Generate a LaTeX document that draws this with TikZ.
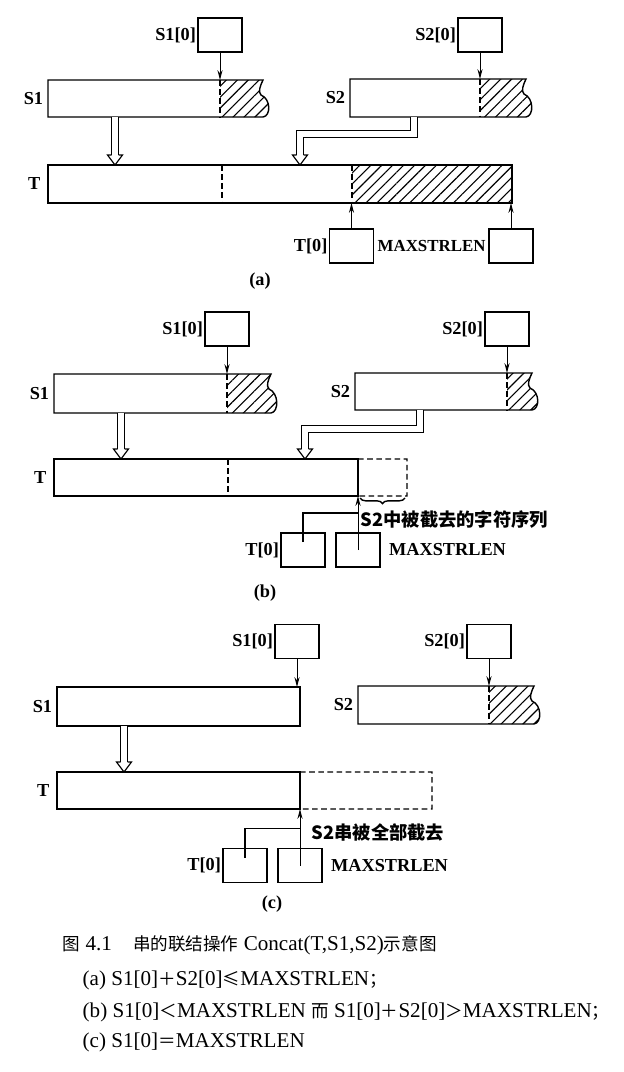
\documentclass[tikz,border=0pt]{standalone}
\usepackage{fontspec}
\setmainfont{Liberation Serif}
\newfontfamily\cjk{Noto Sans CJK SC}
\usepackage{tikz}
\usetikzlibrary{arrows.meta,positioning,fit,calc,patterns.meta,decorations.pathreplacing}

% string with a torn, hatched tail: name, left, cut, end, top, bottom
\newcommand{\strbar}[6]{%
  \node[fit={(#2,#5)(#4,#6)}, inner sep=0pt, outer sep=0pt] (#1) {};
  \fill[hatch] (#3,#5) -- (#4,#5) .. controls (#4-3,#5+6) and (#4-5,#5+12) .. (#4-2,#5+15)
    .. controls (#4+8,#5+19) and (#4+8,#6-1) .. (#4,#6) -- (#3,#6) -- cycle;
  \draw (#3,#6) -- (#2,#6) -- (#2,#5) -- (#4,#5) .. controls (#4-3,#5+6) and (#4-5,#5+12) .. (#4-2,#5+15)
    .. controls (#4+8,#5+19) and (#4+8,#6-1) .. (#4,#6) -- cycle;
  \draw[cut] (#3,#5) -- (#3,#6);
}
% open head of a copy arrow, tip at the named coordinate
\newcommand{\hollowtip}[1]{%
  \draw[fill=white, line width=0.8pt, line join=miter] ($(#1)+(-3.5,-10)$) -- ($(#1)+(-7.5,-10)$)
    -- (#1) -- ($(#1)+(7.5,-10)$) -- ($(#1)+(3.5,-10)$);
}
\newcommand{\zhc}[1]{{\cjk\fontsize{12.5}{16}\selectfont #1}}

\begin{document}
\begin{tikzpicture}[x=0.025cm, y=-0.025cm, line width=1pt,
  bar/.style={draw, inner sep=0pt, outer sep=0pt},
  lenbox/.style={draw, minimum width=1.1cm, minimum height=0.85cm, inner sep=0pt, outer sep=0pt},
  lbl/.style={font=\fontsize{13}{15}\selectfont\bfseries, inner sep=1pt},
  zh/.style={font=\fontsize{13}{15}\selectfont\cjk\bfseries, inner sep=0pt, anchor=west},
  ptr/.style={line width=0.7pt, -{Stealth[length=7pt, width=3.6pt]}},
  cut/.style={dash pattern=on 4pt off 2.5pt},
  hatch/.style={pattern={Lines[angle=45, distance=5.5pt, line width=0.8pt]}},
  shaft/.style={double, double distance=4pt, line width=0.8pt, line join=miter},
  captext/.style={font=\fontsize{15}{18}\selectfont, inner sep=0pt, anchor=west}
]
\useasboundingbox (0,0) rectangle (624,1072);

% (a)
\strbar{a-s1}{48}{220}{263}{80}{117}
\strbar{a-s2}{350}{480}{526}{79}{117}
\fill[hatch] (352,165) rectangle (512,203);
\node[bar, fit={(48,165)(512,203)}] (a-t) {};
\draw[cut] (222,165) -- (222,203) (352,165) -- (352,203);
\node[lbl, left=2pt of a-s1] (a-s1-name) {S1};
\node[lbl, left=2pt of a-s2] (a-s2-name) {S2};
\node[lbl, left=4pt of a-t] (a-t-name) {T};

\node[lenbox] (a-s1len) at (220,35) {};
\node[lbl, left=0pt of a-s1len] (a-s1len-name) {S1[0]};
\node[lenbox] (a-s2len) at (480,35) {};
\node[lbl, left=0pt of a-s2len] (a-s2len-name) {S2[0]};
\draw[ptr] (a-s1len) -- (a-s1len |- a-s1.north);
\draw[ptr] (a-s2len) -- (a-s2len |- a-s2.north);

\coordinate (a-in1) at (115,165);
\draw[shaft] (a-in1 |- a-s1.south) -- ($(a-in1)+(0,-10)$);
\hollowtip{a-in1}
\coordinate (a-in2) at (300,165);
\draw[shaft] ($(a-s2.south west)+(64,0)$) |- ($(a-in2)+(0,-31)$) -- ($(a-in2)+(0,-10)$);
\hollowtip{a-in2}

\node[lenbox] (a-t0) at (351.5,246) {};
\node[lbl, left=0pt of a-t0] (a-t0-name) {T[0]};
\node[lenbox] (a-max) at (511,246) {};
\node[lbl, font=\fontsize{12}{14}\selectfont\bfseries, left=1pt of a-max] (a-max-name) {MAXSTRLEN};
\draw[ptr] (a-t0) -- (a-t0 |- a-t.south);
\draw[ptr] (a-max) -- (a-max |- a-t.south);
\node[lbl] (a-tag) at (260,281) {(a)};

% (b)
\strbar{b-s1}{54}{227}{271}{374}{413}
\strbar{b-s2}{355}{507}{532}{373}{410}
\node[bar, fit={(54,459)(358,496)}] (b-t) {};
\draw[cut] (228,459) -- (228,496);
\draw[cut] (b-t.north east) -- ++(49,0) -- ++(0,37) -- (b-t.south east);
\draw[decorate, decoration={brace, mirror, amplitude=4pt}] (360,498) -- (405,498);
\node[lbl, left=2pt of b-s1] (b-s1-name) {S1};
\node[lbl, left=2pt of b-s2] (b-s2-name) {S2};
\node[lbl, left=4pt of b-t] (b-t-name) {T};

\node[lenbox] (b-s1len) at (227,329) {};
\node[lbl, left=0pt of b-s1len] (b-s1len-name) {S1[0]};
\node[lenbox] (b-s2len) at (507,329) {};
\node[lbl, left=0pt of b-s2len] (b-s2len-name) {S2[0]};
\draw[ptr] (b-s1len) -- (b-s1len |- b-s1.north);
\draw[ptr] (b-s2len) -- (b-s2len |- b-s2.north);

\coordinate (b-in1) at (121,459);
\draw[shaft] (b-in1 |- b-s1.south) -- ($(b-in1)+(0,-10)$);
\hollowtip{b-in1}
\coordinate (b-in2) at (305,459);
\draw[shaft] ($(b-s2.south west)+(65,0)$) |- ($(b-in2)+(0,-30)$) -- ($(b-in2)+(0,-10)$);
\hollowtip{b-in2}

\node[zh] (b-cut-name) at (360,520) {S2中被截去的字符序列};
\node[lenbox] (b-t0) at (303,550) {};
\node[lbl, left=0pt of b-t0] (b-t0-name) {T[0]};
\node[lenbox] (b-max) at (358,550) {};
\node[lbl, right=5pt of b-max] (b-max-name) {MAXSTRLEN};
\draw[ptr] (b-max.center) -- (b-max.center |- b-t.south);
\draw ($(b-t0.center)+(0,-8)$) |- ($(b-max.center)+(0,-37)$);
\node[lbl] (b-tag) at (265,593) {(b)};

% (c)
\node[bar, fit={(57,687)(300,726)}] (c-s1) {};
\strbar{c-s2}{358}{489}{534}{686}{724}
\node[bar, fit={(57,772)(300,809)}] (c-t) {};
\draw[cut] (c-t.north east) -- ++(132,0) -- ++(0,37) -- (c-t.south east);
\node[lbl, left=2pt of c-s1] (c-s1-name) {S1};
\node[lbl, left=2pt of c-s2] (c-s2-name) {S2};
\node[lbl, left=4pt of c-t] (c-t-name) {T};

\node[lenbox] (c-s1len) at (297,641.5) {};
\node[lbl, left=0pt of c-s1len] (c-s1len-name) {S1[0]};
\node[lenbox] (c-s2len) at (489,641.5) {};
\node[lbl, left=0pt of c-s2len] (c-s2len-name) {S2[0]};
\draw[ptr] (c-s1len) -- (c-s1len |- c-s1.north);
\draw[ptr] (c-s2len) -- (c-s2len |- c-s2.north);

\coordinate (c-in1) at (124,772);
\draw[shaft] (c-in1 |- c-s1.south) -- ($(c-in1)+(0,-10)$);
\hollowtip{c-in1}

\node[zh] (c-cut-name) at (311,832) {S2串被全部截去};
\node[lenbox] (c-t0) at (245,865.5) {};
\node[lbl, left=0pt of c-t0] (c-t0-name) {T[0]};
\node[lenbox] (c-max) at (300,865.5) {};
\node[lbl, right=5pt of c-max] (c-max-name) {MAXSTRLEN};
\draw[ptr] (c-max.center) -- (c-max.center |- c-t.south);
\draw ($(c-t0.center)+(0,-8)$) |- ($(c-max.center)+(0,-37)$);
\node[lbl] (c-tag) at (272,904) {(c)};

% caption
\node[captext] (cap) at (62,945)
  {\zhc{图}~4.1\quad\zhc{串的联结操作}~Concat(T,S1,S2)\zhc{示意图}};
\node[captext] (cap-a) at (82,980) {(a) S1[0]\zhc{＋}S2[0]\zhc{≤}MAXSTRLEN\zhc{；}};
\node[captext] (cap-b) at (82,1012) {(b) S1[0]\zhc{＜}MAXSTRLEN \zhc{而} S1[0]\zhc{＋}S2[0]\zhc{＞}MAXSTRLEN\zhc{；}};
\node[captext] (cap-c) at (82,1042) {(c) S1[0]\zhc{＝}MAXSTRLEN};
\end{tikzpicture}
\end{document}
